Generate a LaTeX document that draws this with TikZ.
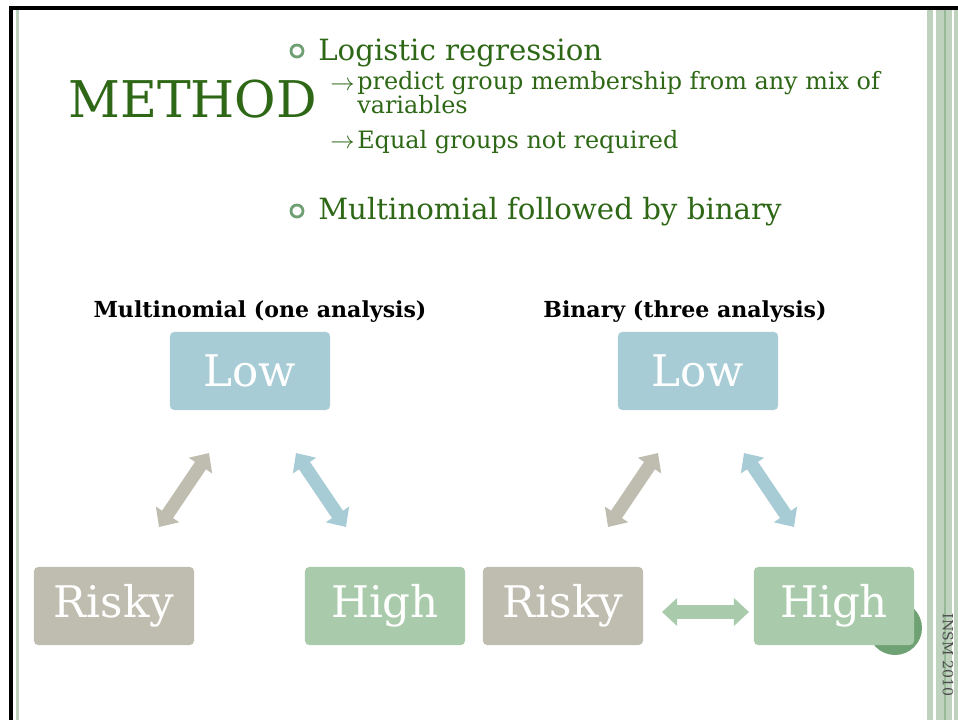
\documentclass[tikz,border=0pt]{standalone}
\usepackage{fontspec}
\setmainfont{DejaVu Serif}
\usetikzlibrary{arrows.meta}
\definecolor{slidegreen}{RGB}{46,104,22}
\definecolor{bulletgreen}{RGB}{110,160,115}
\definecolor{lowblue}{RGB}{168,204,214}
\definecolor{riskygray}{RGB}{191,189,176}
\definecolor{highgreen}{RGB}{169,203,171}
\definecolor{stripegreen}{RGB}{190,210,190}
\definecolor{stripedark}{RGB}{150,185,150}
\definecolor{circlegreen}{RGB}{110,162,116}
\begin{document}
\begin{tikzpicture}[x=0.025cm,y=-0.025cm,
		box/.style={rounded corners=3pt,minimum width=4cm,minimum height=1.95cm,inner sep=0pt,text=white,font=\fontsize{31}{31}\selectfont},
		fat/.style={line width=0.33cm,{Triangle[width=0.68cm,length=0.38cm]}-{Triangle[width=0.68cm,length=0.38cm]}},
		txt/.style={anchor=base west,text=slidegreen,inner sep=0pt},
		head/.style={anchor=base,inner sep=0pt,font=\fontsize{15.7}{15.7}\selectfont\bfseries}]
				\useasboundingbox (0,0) rectangle (958,720);
				% frame
				\fill[black] (9,6) rectangle (958,10);
				\fill[black] (9,6) rectangle (13,720);
				\fill[stripegreen] (16,10) rectangle (19,720);
				\fill[stripegreen] (927,10) rectangle (933,720);
				\fill[stripegreen] (936,10) rectangle (945,720);
				\fill[stripedark] (944,10) rectangle (946,720);
				\fill[stripegreen] (946,10) rectangle (952,720);
				\fill[stripegreen] (954,10) rectangle (958,720);
				\node[rotate=-90,font=\fontsize{10}{10}\selectfont,text=black!70] (year) at (948,655) {INSM 2010};
				\fill[circlegreen] (895,628) circle (27);
				
				% title and bullets
				\node[txt,font=\fontsize{36}{36}\selectfont] (title) at (68,118) {METHOD};
				\node[draw=bulletgreen,line width=2pt,circle,minimum size=0.3cm,inner sep=0pt] (b1) at (297,51) {};
				\node[txt,font=\fontsize{20.8}{20.8}\selectfont] (logit) at (318,61) {Logistic regression};
				\node[txt,font=\fontsize{17}{17}\selectfont] (ar1) at (330,91) {$\rightarrow$};
				\node[txt,font=\fontsize{17}{13}\selectfont,align=left] (mix) at (357,114) {predict group membership from any mix of\\variables};
				\node[txt,font=\fontsize{17}{17}\selectfont] (ar2) at (330,149) {$\rightarrow$};
				\node[txt,font=\fontsize{17}{17}\selectfont] (equal) at (357,149) {Equal groups not required};
				\node[draw=bulletgreen,line width=2pt,circle,minimum size=0.3cm,inner sep=0pt] (b2) at (297,211) {};
				\node[txt,font=\fontsize{20.8}{20.8}\selectfont] (multi) at (318,220) {Multinomial followed by binary};
				
				\node[head] (H1) at (260,318) {Multinomial (one analysis)};
				\node[head] (H2) at (685,318) {Binary (three analysis)};
				
				% left diagram
				\node[box,fill=lowblue] (A) at (250,371) {Low};
				\node[box,fill=riskygray] (B) at (114,606) {Risky};
				\node[box,fill=highgreen] (C) at (385,606) {High};
				% right diagram
				\node[box,fill=lowblue] (A') at (698,371) {Low};
				\node[box,fill=riskygray] (B') at (563,606) {Risky};
				\node[box,fill=highgreen] (C') at (834,606) {High};
				
				\coordinate (p1) at (159,527);
				\coordinate (p2) at (209,453);
				\coordinate (p3) at (296,453);
				\coordinate (p4) at (346,527);
				\coordinate (q1) at (608,527);
				\coordinate (q2) at (658,453);
				\coordinate (q3) at (744,453);
				\coordinate (q4) at (794,527);
				\coordinate (r1) at (662,612);
				\coordinate (r2) at (749,612);
				\draw[fat,riskygray] (p1) -- (p2);
				\draw[fat,lowblue] (p3) -- (p4);
				\draw[fat,riskygray] (q1) -- (q2);
				\draw[fat,lowblue] (q3) -- (q4);
				\draw[fat,highgreen] (r1) -- (r2);
			\end{tikzpicture}
\end{document}
